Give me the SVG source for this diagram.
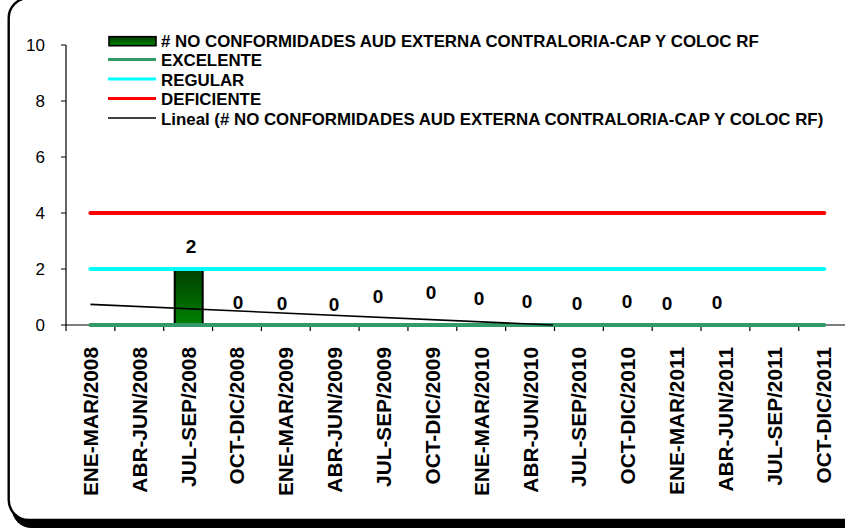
<svg xmlns="http://www.w3.org/2000/svg" width="845" height="528" viewBox="0 0 845 528">
<style>
text{font-family:"Liberation Sans",Arial,sans-serif;fill:#000}
.yl{font-size:17px;text-anchor:end}
.xl{font-size:20.8px;font-weight:bold;text-anchor:end}
.dl{font-size:19px;font-weight:bold;text-anchor:middle}
.lg{font-size:16.85px;font-weight:bold}
.ax{stroke:#000;stroke-width:1.2;fill:none}
.ser{fill:none;stroke-width:4;stroke-linecap:round}
</style>
<defs>
<linearGradient id="barg" x1="0" y1="0" x2="0" y2="1">
<stop offset="0" stop-color="#003f00"/>
<stop offset="1" stop-color="#008200"/>
</linearGradient>
</defs>
<g id="frame">
<rect x="11.7" y="4" width="900" height="524" rx="20" fill="#000"/>
<rect x="8.7" y="-2" width="900" height="522" rx="20" fill="#fff" stroke="#000" stroke-width="2.4"/>
</g>
<g id="axes">
<path class="ax" d="M66 45V325H845"/>
<path class="ax" d="M61 45H66M61 101H66M61 157H66M61 213H66M61 269H66M61 325H66"/>
<path class="ax" stroke="#444" d="M66 325V331M114.85 325V331M163.7 325V331M212.55 325V331M261.4 325V331M310.25 325V331M359.1 325V331M407.95 325V331M456.8 325V331M505.65 325V331M554.5 325V331M603.35 325V331M652.2 325V331M701.05 325V331M749.9 325V331M798.75 325V331"/>
<text class="yl" x="45" y="51">10</text>
<text class="yl" x="45" y="107">8</text>
<text class="yl" x="45" y="163">6</text>
<text class="yl" x="45" y="219">4</text>
<text class="yl" x="45" y="275">2</text>
<text class="yl" x="45" y="331">0</text>
</g>
<g id="xlabels">
<text class="xl" transform="translate(97.8,347) rotate(-90)">ENE-MAR/2008</text>
<text class="xl" transform="translate(146.7,347) rotate(-90)">ABR-JUN/2008</text>
<text class="xl" transform="translate(195.5,347) rotate(-90)">JUL-SEP/2008</text>
<text class="xl" transform="translate(244.4,347) rotate(-90)">OCT-DIC/2008</text>
<text class="xl" transform="translate(293.2,347) rotate(-90)">ENE-MAR/2009</text>
<text class="xl" transform="translate(342.1,347) rotate(-90)">ABR-JUN/2009</text>
<text class="xl" transform="translate(390.9,347) rotate(-90)">JUL-SEP/2009</text>
<text class="xl" transform="translate(439.8,347) rotate(-90)">OCT-DIC/2009</text>
<text class="xl" transform="translate(488.6,347) rotate(-90)">ENE-MAR/2010</text>
<text class="xl" transform="translate(537.5,347) rotate(-90)">ABR-JUN/2010</text>
<text class="xl" transform="translate(586.3,347) rotate(-90)">JUL-SEP/2010</text>
<text class="xl" transform="translate(635.2,347) rotate(-90)">OCT-DIC/2010</text>
<text class="xl" transform="translate(684,347) rotate(-90)">ENE-MAR/2011</text>
<text class="xl" transform="translate(732.9,347) rotate(-90)">ABR-JUN/2011</text>
<text class="xl" transform="translate(781.7,347) rotate(-90)">JUL-SEP/2011</text>
<text class="xl" transform="translate(830.6,347) rotate(-90)">OCT-DIC/2011</text>
</g>
<g id="series">
<rect id="bar" x="174.7" y="269" width="28" height="56" fill="url(#barg)" stroke="#000" stroke-width="2"/>
<path class="ser" stroke="#339966" d="M90.4 325H824.3"/>
<path class="ser" stroke="#00ffff" d="M90.4 269H824.3"/>
<path class="ser" stroke="#ff0000" d="M90.4 213H824.3"/>
<path id="trend" d="M90.4 304.4L553 325" fill="none" stroke="#000" stroke-width="1.6"/>
</g>
<g id="datalabels">
<text class="dl" x="191" y="252.5">2</text>
<text class="dl" x="238" y="308.7">0</text>
<text class="dl" x="282" y="309.7">0</text>
<text class="dl" x="334" y="310.7">0</text>
<text class="dl" x="378" y="303">0</text>
<text class="dl" x="431" y="298.7">0</text>
<text class="dl" x="479" y="305.3">0</text>
<text class="dl" x="527" y="307.7">0</text>
<text class="dl" x="577" y="310">0</text>
<text class="dl" x="627" y="308.3">0</text>
<text class="dl" x="667" y="309.7">0</text>
<text class="dl" x="717" y="308.7">0</text>
</g>
<g id="legend">
<rect x="109" y="36.7" width="47" height="9" fill="url(#barg)" stroke="#000" stroke-width="1.6"/>
<path d="M108 59.5H156" stroke="#339966" stroke-width="3"/>
<path d="M108 79H156" stroke="#00ffff" stroke-width="3"/>
<path d="M108 98.5H156" stroke="#ff0000" stroke-width="3"/>
<path d="M108 118H156" stroke="#000" stroke-width="1.6"/>
<text class="lg" x="161" y="46.5"># NO CONFORMIDADES AUD EXTERNA CONTRALORIA-CAP Y COLOC RF</text>
<text class="lg" x="161" y="66">EXCELENTE</text>
<text class="lg" x="161" y="85.5">REGULAR</text>
<text class="lg" x="161" y="105">DEFICIENTE</text>
<text class="lg" x="161" y="124.5">Lineal (# NO CONFORMIDADES AUD EXTERNA CONTRALORIA-CAP Y COLOC RF)</text>
</g>
</svg>
